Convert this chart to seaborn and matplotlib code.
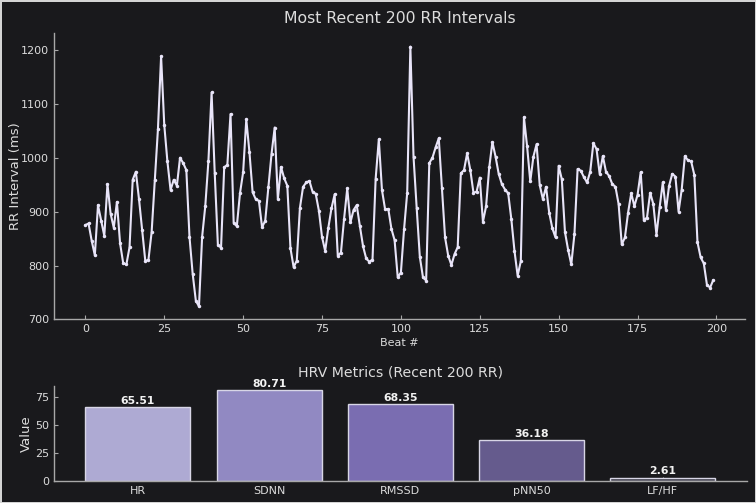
import matplotlib
matplotlib.use("Agg")
import matplotlib.pyplot as plt
import seaborn as sns
import numpy as np
import pandas as pd

rr_values = [
    875, 878, 846, 819, 912, 883, 855, 951, 896, 870,
    918, 841, 804, 802, 834, 959, 974, 923, 866, 808,
    811, 862, 959, 1053, 1188, 1061, 993, 940, 959, 948,
    1000, 990, 977, 853, 785, 735, 724, 853, 910, 994,
    1121, 971, 838, 833, 982, 987, 1081, 879, 873, 934,
    973, 1071, 1010, 936, 923, 920, 871, 883, 946, 1007,
    1056, 923, 983, 962, 948, 832, 797, 809, 907, 946,
    954, 957, 937, 933, 902, 853, 827, 870, 906, 932,
    818, 824, 887, 943, 880, 903, 912, 873, 836, 813,
    807, 811, 961, 1034, 940, 904, 905, 868, 847, 778,
    787, 867, 935, 1206, 1002, 907, 816, 778, 772, 990,
    1000, 1019, 1036, 943, 852, 818, 801, 821, 834, 971,
    977, 1008, 977, 935, 937, 963, 881, 910, 982, 1029,
    1002, 970, 951, 941, 934, 886, 827, 781, 808, 1075,
    1021, 956, 1002, 1025, 949, 923, 946, 898, 869, 852,
    985, 960, 862, 829, 802, 858, 979, 976, 964, 954,
    974, 1027, 1016, 970, 1003, 974, 966, 951, 946, 914,
    839, 852, 898, 934, 910, 931, 973, 884, 889, 935,
    914, 857, 908, 954, 903, 948, 970, 965, 900, 941,
    1003, 995, 993, 968, 843, 815, 804, 764, 759, 773,
]
beats = list(range(len(rr_values)))

metric_names = ["HR", "SDNN", "RMSSD", "pNN50", "LF/HF"]
metric_values = [65.51, 80.71, 68.35, 36.18, 2.61]
bar_colors = ["#aeaad3", "#9189c2", "#7a6db1", "#655b8d", "#3b3a48"]

BG = "#19191c"
TXT = "#dcdcdc"
SPINE = "#a8a8a8"

sns.set_theme(style="dark")
plt.rcParams.update({
    "figure.facecolor": BG,
    "axes.facecolor": BG,
    "axes.edgecolor": SPINE,
    "axes.labelcolor": TXT,
    "text.color": TXT,
    "xtick.color": SPINE,
    "ytick.color": SPINE,
    "xtick.labelcolor": TXT,
    "ytick.labelcolor": TXT,
    "axes.grid": False,
    "xtick.bottom": True,
    "ytick.left": True,
})
plt.rcParams["font.family"] = ["DejaVu Sans"]

fig = plt.figure(figsize=(7.56, 5.03), dpi=100)
fig.patch.set_edgecolor("#d4d4d4")
fig.patch.set_linewidth(2.0)
ax1 = fig.add_axes([0.0714, 0.365, 0.9136, 0.569])
ax2 = fig.add_axes([0.0714, 0.0437, 0.9161, 0.1893])

df = pd.DataFrame({"Beat #": beats, "RR": rr_values})
sns.lineplot(data=df, x="Beat #", y="RR", ax=ax1, color="#e8e4f8",
             marker="o", markersize=2.5, markeredgewidth=0, linewidth=1.5)
ax1.set_xlim(-9.95, 208.95)
ax1.set_ylim(700, 1231)
ax1.set_xticks(range(0, 201, 25))
ax1.set_yticks(range(700, 1201, 100))
ax1.set_xlabel("Beat #", fontsize=8, labelpad=3)
ax1.set_ylabel("RR Interval (ms)", fontsize=9.5)
ax1.yaxis.set_label_coords(-0.046, 0.5)
ax1.set_title("Most Recent 200 RR Intervals", fontsize=11.3, color=TXT, pad=7)
ax1.tick_params(labelsize=8, length=3, width=0.8, direction="in")

dfm = pd.DataFrame({"Metric": metric_names, "Value": metric_values})
sns.barplot(data=dfm, x="Metric", y="Value", hue="Metric", palette=bar_colors,
            legend=False, ax=ax2, edgecolor="#d8d6e6", linewidth=1.0, width=0.8,
            saturation=1)
ax2.set_xlim(-0.64, 4.64)
ax2.set_ylim(0, max(metric_values) * 1.05)
ax2.set_yticks([0, 25, 50, 75])
ax2.set_xlabel("")
ax2.set_ylabel("Value", fontsize=9.5)
ax2.yaxis.set_label_coords(-0.030, 0.5)
ax2.set_title("HRV Metrics (Recent 200 RR)", fontsize=10.2, color=TXT, pad=7)
ax2.tick_params(labelsize=8, length=3, width=0.8, direction="in")
for i, v in enumerate(metric_values):
    ax2.text(i, v + 1.5, f"{v:.2f}", ha="center", va="bottom",
             fontsize=7.8, fontweight="bold", color="#f2f2f2")

for ax in (ax1, ax2):
    for s in ("top", "right"):
        ax.spines[s].set_visible(False)
    for s in ("left", "bottom"):
        ax.spines[s].set_color(SPINE)
        ax.spines[s].set_linewidth(1.0)

fig.savefig("out.png", dpi=100, facecolor=BG, edgecolor=fig.patch.get_edgecolor())
